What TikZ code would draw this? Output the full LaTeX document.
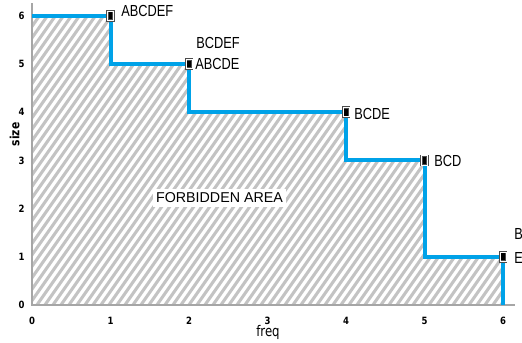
\documentclass[tikz,border=0pt]{standalone}
\usepackage{fontspec}
\setmainfont{Liberation Sans}
\newfontfamily\narrowf[FakeStretch=0.8]{Liberation Sans}
\newfontfamily\tickf[FakeStretch=0.85]{DejaVu Sans}
\newfontfamily\axisf[FakeStretch=0.8]{DejaVu Sans}
\definecolor{lineblue}{RGB}{0,162,232}
\definecolor{hatchgray}{RGB}{195,195,195}
\definecolor{axisgray}{RGB}{166,166,166}
\tikzset{
  hatchline/.style={draw=hatchgray, line width=2.3pt},
  axisline/.style={draw=axisgray, line width=1.1pt},
  stepline/.style={draw=lineblue, line width=3pt, line join=miter},
  marker/.style={rectangle, minimum width=4.5pt, minimum height=7pt, inner sep=0pt,
    fill=black, draw=black!70, double=white, double distance=0.6pt, line width=0.6pt},
  ptlabel/.style={anchor=west, inner sep=0pt, font=\narrowf\fontsize{12}{14}\selectfont},
  ticklabel/.style={inner sep=0pt, font=\tickf\bfseries\fontsize{7.5}{8}\selectfont},
  areabox/.style={fill=white, inner xsep=2pt, inner ysep=3.3pt, font=\fontsize{10.7}{12}\selectfont},
}
\begin{document}
\begin{tikzpicture}[x=0.75pt, y=-0.75pt]
\useasboundingbox (0,0) rectangle (522,343);
% data points in pixel coordinates
\coordinate (o)   at (32,305);
\coordinate (p0)  at (32,15.8);
\coordinate (p1)  at (110.5,15.8);
\coordinate (p1b) at (110.5,64);
\coordinate (p2)  at (189,64);
\coordinate (p2b) at (189,112.2);
\coordinate (p3)  at (346,112.2);
\coordinate (p3b) at (346,160.4);
\coordinate (p4)  at (424.5,160.4);
\coordinate (p4b) at (424.5,256.8);
\coordinate (p5)  at (503,256.8);
\coordinate (p6)  at (503,305);
\coordinate (ytop) at (32,3);
\coordinate (xend) at (515,305);
% hatched forbidden area
\begin{scope}
  \clip (o) -- (p0) -- (p1) -- (p1b) -- (p2) -- (p2b) -- (p3) -- (p3b) -- (p4) -- (p4b) -- (p5) -- (p6) -- cycle;
  \foreach \i in {-30,...,62} {
    \draw[hatchline] (32+8*\i,312) -- ++(222,-317);
  }
\end{scope}
% axes
\draw[axisline] (ytop) -- (o) -- (xend);
% step line
\draw[stepline] (p0) -- (p1) -- (p1b) -- (p2) -- (p2b) -- (p3) -- (p3b) -- (p4) -- (p4b) -- (p5) -- (p6);
% markers
\node[marker] (m1) at (p1) {};
\node[marker] (m2) at (p2) {};
\node[marker] (m3) at (p3) {};
\node[marker] (m4) at (p4) {};
\node[marker] (m5) at (p5) {};
% point labels
\node[ptlabel] (l1)  at (121,11)   {ABCDEF};
\node[ptlabel] (l2a) at (196,42.5) {BCDEF};
\node[ptlabel] (l2b) at (195,64)   {ABCDE};
\node[ptlabel] (l3)  at (354,113.5){BCDE};
\node[ptlabel] (l4)  at (434,161)  {BCD};
\node[ptlabel] (l5a) at (514,234)  {B};
\node[ptlabel] (l5b) at (514,258)  {E};
% area label
\node[areabox] (area) at (219.5,198) {FORBIDDEN AREA};
% tick labels
\foreach \v/\yy in {0/305,1/256.8,2/208.6,3/160.4,4/112.2,5/64,6/15.8}
  \node[ticklabel] (yt\v) at (21.5,\yy) {\v};
\foreach \v/\xx in {0/32,1/110.5,2/189,3/267.5,4/346,5/424.5,6/503}
  \node[ticklabel] (xt\v) at (\xx,321) {\v};
% axis titles
\node[inner sep=0pt, rotate=90, font=\tickf\bfseries\fontsize{9.5}{10}\selectfont] (ylab) at (14.7,134.5) {size};
\node[inner sep=0pt, anchor=base, font=\axisf\fontsize{11}{12}\selectfont] (xlab) at (268,336.5) {freq};
\end{tikzpicture}
\end{document}
